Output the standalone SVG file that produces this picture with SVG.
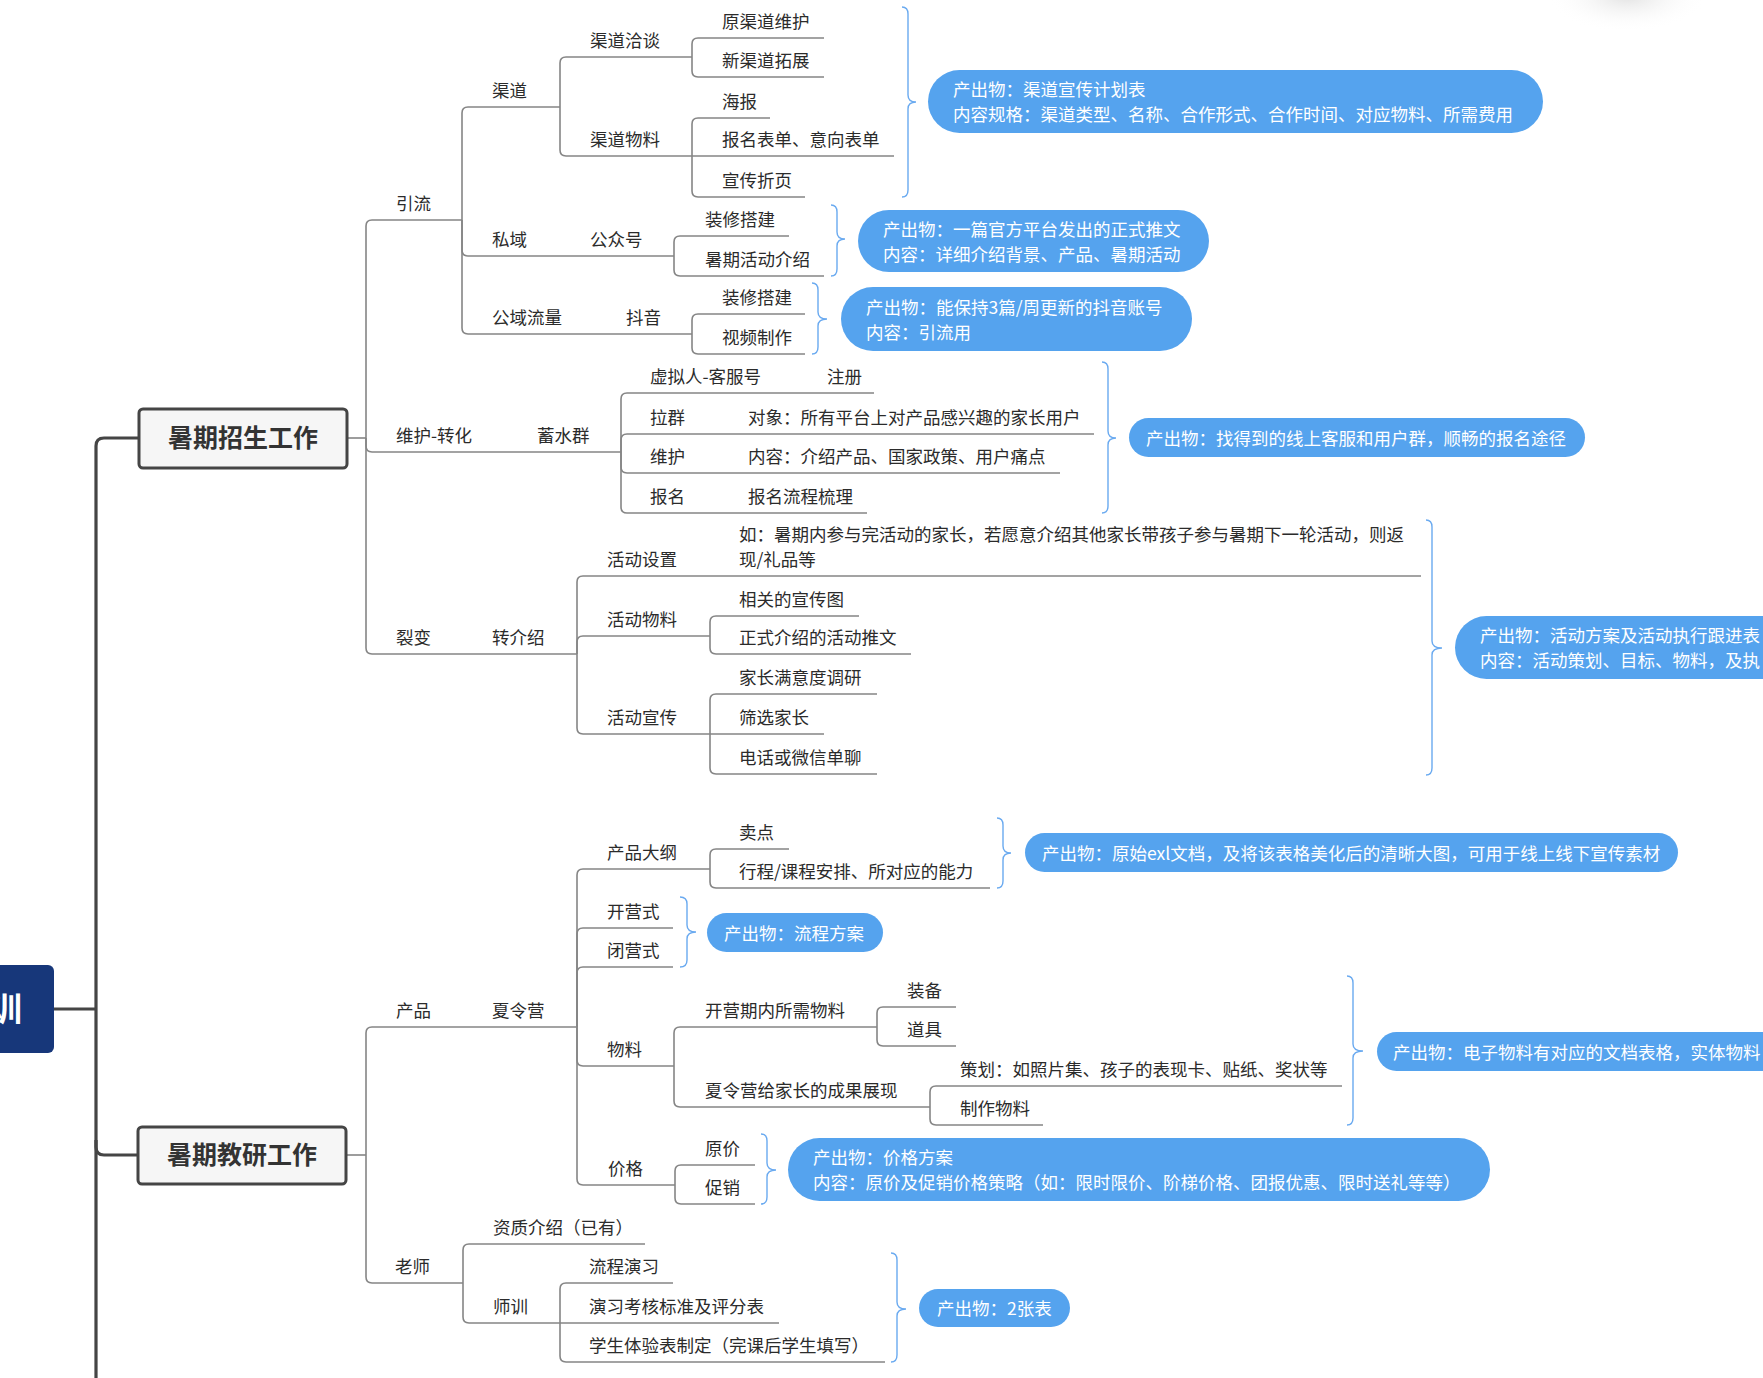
<svg xmlns="http://www.w3.org/2000/svg" width="1763" height="1378" viewBox="0 0 1763 1378">
<style>
text{font-family:"Noto Sans CJK SC","Noto Sans",sans-serif;}
.t{font-size:17.5px;fill:#2b2b2b;}
.bt{font-size:17.5px;fill:#ffffff;}
.ln{fill:none;stroke:#858585;stroke-width:1.6;}
.tk{fill:none;stroke:#454545;stroke-width:3.2;}
.br{fill:none;stroke:#6aaaf0;stroke-width:1.4;}
.bub{fill:#55a3ee;}
.box{fill:#f6f6f6;stroke:#454545;stroke-width:3;}
.bx{font-size:25px;font-weight:bold;fill:#333333;}
</style>
<defs>
<radialGradient id="sh" cx="0.5" cy="0.5" r="0.5">
<stop offset="0" stop-color="#e2e2e2"/>
<stop offset="1" stop-color="#ffffff" stop-opacity="0"/>
</radialGradient>
</defs>
<rect width="1763" height="1378" fill="#ffffff"/>
<ellipse cx="1627" cy="-4" rx="80" ry="36" fill="url(#sh)"/>

<g id="connectors">
<path class="tk" d="M96 1378 V446 Q96 438 104 438 H139"/>
<path class="tk" d="M96 1140 V1147 Q96 1155 104 1155 H138"/>
<path class="tk" d="M54 1009 H96"/>
<path class="ln" d="M347 438 H366"/>
<path class="ln" d="M346 1155 H366"/>
<!-- spine A招生 -->
<path class="ln" d="M366 438 V226 Q366 220 372 220 H462"/>
<path class="ln" d="M366 438 V446 Q366 452 372 452 H621"/>
<path class="ln" d="M366 438 V648 Q366 654 372 654 H577"/>
<!-- 引流 -->
<path class="ln" d="M462 220 V113 Q462 107 468 107 H560"/>
<path class="ln" d="M462 220 V250 Q462 256 468 256 H674"/>
<path class="ln" d="M462 220 V328 Q462 334 468 334 H692"/>
<!-- 渠道 -->
<path class="ln" d="M560 107 V63 Q560 57 566 57 H692"/>
<path class="ln" d="M560 107 V150 Q560 156 566 156 H692"/>
<path class="ln" d="M692 57 V44 Q692 38 698 38 H824"/>
<path class="ln" d="M692 57 V71 Q692 77 698 77 H824"/>
<path class="ln" d="M692 156 V124 Q692 118 698 118 H770"/>
<path class="ln" d="M692 156 H894"/>
<path class="ln" d="M692 156 V191 Q692 197 698 197 H805"/>
<!-- 私域 -->
<path class="ln" d="M674 256 V242 Q674 236 680 236 H789"/>
<path class="ln" d="M674 256 V270 Q674 276 680 276 H824"/>
<!-- 公域 -->
<path class="ln" d="M692 334 V320 Q692 314 698 314 H805"/>
<path class="ln" d="M692 334 V348 Q692 354 698 354 H805"/>
<!-- 蓄水群 -->
<path class="ln" d="M621 452 V399 Q621 393 627 393 H874"/>
<path class="ln" d="M621 452 V440 Q621 434 627 434 H1094"/>
<path class="ln" d="M621 452 V467 Q621 473 627 473 H1060"/>
<path class="ln" d="M621 452 V507 Q621 513 627 513 H867"/>
<!-- 转介绍 -->
<path class="ln" d="M577 654 V582 Q577 576 583 576 H1421"/>
<path class="ln" d="M577 654 V642 Q577 636 583 636 H710"/>
<path class="ln" d="M577 654 V728 Q577 734 583 734 H710"/>
<path class="ln" d="M710 636 V622 Q710 616 716 616 H859"/>
<path class="ln" d="M710 636 V648 Q710 654 716 654 H911"/>
<path class="ln" d="M710 734 V700 Q710 694 716 694 H877"/>
<path class="ln" d="M710 734 H824"/>
<path class="ln" d="M710 734 V768 Q710 774 716 774 H877"/>
<!-- spine 教研 -->
<path class="ln" d="M366 1155 V1033 Q366 1027 372 1027 H577"/>
<path class="ln" d="M366 1155 V1277 Q366 1283 372 1283 H463"/>
<!-- 夏令营 -->
<path class="ln" d="M577 1027 V875 Q577 869 583 869 H710"/>
<path class="ln" d="M577 1027 V934 Q577 928 583 928 H673"/>
<path class="ln" d="M577 1027 V973 Q577 967 583 967 H673"/>
<path class="ln" d="M577 1027 V1060 Q577 1066 583 1066 H674"/>
<path class="ln" d="M577 1027 V1179 Q577 1185 583 1185 H675"/>
<path class="ln" d="M710 869 V855 Q710 849 716 849 H789"/>
<path class="ln" d="M710 869 V882 Q710 888 716 888 H990"/>
<path class="ln" d="M674 1066 V1033 Q674 1027 680 1027 H877"/>
<path class="ln" d="M674 1066 V1101 Q674 1107 680 1107 H930"/>
<path class="ln" d="M877 1027 V1013 Q877 1007 883 1007 H956"/>
<path class="ln" d="M877 1027 V1040 Q877 1046 883 1046 H956"/>
<path class="ln" d="M930 1107 V1092 Q930 1086 936 1086 H1342"/>
<path class="ln" d="M930 1107 V1119 Q930 1125 936 1125 H1043"/>
<path class="ln" d="M675 1185 V1171 Q675 1165 681 1165 H755"/>
<path class="ln" d="M675 1185 V1198 Q675 1204 681 1204 H755"/>
<!-- 老师 -->
<path class="ln" d="M463 1283 V1250 Q463 1244 469 1244 H645"/>
<path class="ln" d="M463 1283 V1317 Q463 1323 469 1323 H560"/>
<path class="ln" d="M560 1323 V1289 Q560 1283 566 1283 H673"/>
<path class="ln" d="M560 1323 H779"/>
<path class="ln" d="M560 1323 V1356 Q560 1362 566 1362 H885"/>
</g>

<g id="brackets">
<path class="br" d="M902 7 Q908 7 908 14 V95 Q908 102 916 102 Q908 102 908 109 V190 Q908 197 902 197"/>
<path class="br" d="M831 205 Q837 205 837 212 V232 Q837 239 845 239 Q837 239 837 246 V269 Q837 276 831 276"/>
<path class="br" d="M812 283 Q818 283 818 290 V312 Q818 319 827 319 Q818 319 818 326 V347 Q818 354 812 354"/>
<path class="br" d="M1102 362 Q1108 362 1108 369 V431 Q1108 438 1116 438 Q1108 438 1108 445 V506 Q1108 513 1102 513"/>
<path class="br" d="M1426 520 Q1432 520 1432 527 V641 Q1432 648 1442 648 Q1432 648 1432 655 V768 Q1432 775 1426 775"/>
<path class="br" d="M997 818 Q1003 818 1003 825 V846 Q1003 853 1011 853 Q1003 853 1003 860 V881 Q1003 888 997 888"/>
<path class="br" d="M680 897 Q687 897 687 904 V925 Q687 932 696 932 Q687 932 687 939 V960 Q687 967 680 967"/>
<path class="br" d="M1347 976 Q1353 976 1353 983 V1044 Q1353 1051 1363 1051 Q1353 1051 1353 1058 V1118 Q1353 1125 1347 1125"/>
<path class="br" d="M761 1134 Q767 1134 767 1141 V1163 Q767 1170 776 1170 Q767 1170 767 1177 V1197 Q767 1204 761 1204"/>
<path class="br" d="M891 1253 Q897 1253 897 1260 V1302 Q897 1309 906 1309 Q897 1309 897 1316 V1355 Q897 1362 891 1362"/>
</g>

<g id="root"><rect x="-12" y="965" width="66" height="88" rx="6" fill="#17377a"/><text x="-11" y="1021" style="font-size:33px;font-weight:bold;fill:#ffffff">训</text></g>
<g id="zhaosheng"><rect class="box" x="139" y="409" width="208" height="59" rx="4"/><text class="bx" x="243" y="447" text-anchor="middle">暑期招生工作</text></g>
<g id="jiaoyan"><rect class="box" x="138" y="1127" width="208" height="57" rx="4"/><text class="bx" x="242" y="1164" text-anchor="middle">暑期教研工作</text></g>

<g id="n-yinliu"><text class="t" x="396" y="210">引流</text></g>
<g id="n-qudao"><text class="t" x="492" y="97">渠道</text></g>
<g id="n-qdqt"><text class="t" x="590" y="47">渠道洽谈</text></g>
<g id="n-yqdwh"><text class="t" x="722" y="28">原渠道维护</text></g>
<g id="n-xqdtz"><text class="t" x="722" y="67">新渠道拓展</text></g>
<g id="n-qdwl"><text class="t" x="590" y="146">渠道物料</text></g>
<g id="n-haibao"><text class="t" x="722" y="108">海报</text></g>
<g id="n-bmbd"><text class="t" x="722" y="146">报名表单、意向表单</text></g>
<g id="n-xczy"><text class="t" x="722" y="187">宣传折页</text></g>
<g id="n-siyu"><text class="t" x="492" y="246">私域</text></g>
<g id="n-gzh"><text class="t" x="590" y="246">公众号</text></g>
<g id="n-zxdj1"><text class="t" x="705" y="226">装修搭建</text></g>
<g id="n-sqhd"><text class="t" x="705" y="266">暑期活动介绍</text></g>
<g id="n-gyll"><text class="t" x="492" y="324">公域流量</text></g>
<g id="n-douyin"><text class="t" x="626" y="324">抖音</text></g>
<g id="n-zxdj2"><text class="t" x="722" y="304">装修搭建</text></g>
<g id="n-spzz"><text class="t" x="722" y="344">视频制作</text></g>
<g id="n-whzh"><text class="t" x="396" y="442">维护-转化</text></g>
<g id="n-xsq"><text class="t" x="537" y="442">蓄水群</text></g>
<g id="n-xnr"><text class="t" x="650" y="383">虚拟人-客服号</text><text class="t" x="827" y="383">注册</text></g>
<g id="n-laqun"><text class="t" x="650" y="424">拉群</text><text class="t" x="748" y="424">对象：所有平台上对产品感兴趣的家长用户</text></g>
<g id="n-weihu"><text class="t" x="650" y="463">维护</text><text class="t" x="748" y="463">内容：介绍产品、国家政策、用户痛点</text></g>
<g id="n-baoming"><text class="t" x="650" y="503">报名</text><text class="t" x="748" y="503">报名流程梳理</text></g>
<g id="n-liebian"><text class="t" x="396" y="644">裂变</text></g>
<g id="n-zjs"><text class="t" x="492" y="644">转介绍</text></g>
<g id="n-hdsz"><text class="t" x="607" y="566">活动设置</text><text class="t" x="739" y="541">如：暑期内参与完活动的家长，若愿意介绍其他家长带孩子参与暑期下一轮活动，则返</text><text class="t" x="739" y="566">现/礼品等</text></g>
<g id="n-hdwl"><text class="t" x="607" y="626">活动物料</text></g>
<g id="n-xgxct"><text class="t" x="739" y="606">相关的宣传图</text></g>
<g id="n-zsjs"><text class="t" x="739" y="644">正式介绍的活动推文</text></g>
<g id="n-hdxc"><text class="t" x="607" y="724">活动宣传</text></g>
<g id="n-jzmyd"><text class="t" x="739" y="684">家长满意度调研</text></g>
<g id="n-sxjz"><text class="t" x="739" y="724">筛选家长</text></g>
<g id="n-dhwx"><text class="t" x="739" y="764">电话或微信单聊</text></g>
<g id="n-chanpin"><text class="t" x="396" y="1017">产品</text></g>
<g id="n-xly"><text class="t" x="492" y="1017">夏令营</text></g>
<g id="n-cpdg"><text class="t" x="607" y="859">产品大纲</text></g>
<g id="n-maidian"><text class="t" x="739" y="839">卖点</text></g>
<g id="n-xc"><text class="t" x="739" y="878">行程/课程安排、所对应的能力</text></g>
<g id="n-kys"><text class="t" x="607" y="918">开营式</text></g>
<g id="n-bys"><text class="t" x="607" y="957">闭营式</text></g>
<g id="n-wuliao"><text class="t" x="607" y="1056">物料</text></g>
<g id="n-kyq"><text class="t" x="705" y="1017">开营期内所需物料</text></g>
<g id="n-zb"><text class="t" x="907" y="997">装备</text></g>
<g id="n-dj"><text class="t" x="907" y="1036">道具</text></g>
<g id="n-cgzx"><text class="t" x="705" y="1097">夏令营给家长的成果展现</text></g>
<g id="n-ch"><text class="t" x="960" y="1076">策划：如照片集、孩子的表现卡、贴纸、奖状等</text></g>
<g id="n-zzwl"><text class="t" x="960" y="1115">制作物料</text></g>
<g id="n-jiage"><text class="t" x="608" y="1175">价格</text></g>
<g id="n-yj"><text class="t" x="705" y="1155">原价</text></g>
<g id="n-cx"><text class="t" x="705" y="1194">促销</text></g>
<g id="n-laoshi"><text class="t" x="395" y="1273">老师</text></g>
<g id="n-zzjs"><text class="t" x="493" y="1234">资质介绍（已有）</text></g>
<g id="n-shixun"><text class="t" x="493" y="1313">师训</text></g>
<g id="n-lcyx"><text class="t" x="589" y="1273">流程演习</text></g>
<g id="n-yxkh"><text class="t" x="589" y="1313">演习考核标准及评分表</text></g>
<g id="n-xsty"><text class="t" x="589" y="1352">学生体验表制定（完课后学生填写）</text></g>

<g id="o1"><rect class="bub" x="928" y="70" width="615" height="63" rx="31.5"/><text class="bt" x="953" y="96">产出物：渠道宣传计划表</text><text class="bt" x="953" y="121">内容规格：渠道类型、名称、合作形式、合作时间、对应物料、所需费用</text></g>
<g id="o2"><rect class="bub" x="858" y="210" width="351" height="62" rx="31"/><text class="bt" x="883" y="235.5">产出物：一篇官方平台发出的正式推文</text><text class="bt" x="883" y="260.5">内容：详细介绍背景、产品、暑期活动</text></g>
<g id="o3"><rect class="bub" x="841" y="287" width="351" height="64" rx="32"/><text class="bt" x="866" y="313.5">产出物：能保持3篇/周更新的抖音账号</text><text class="bt" x="866" y="338.5">内容：引流用</text></g>
<g id="o4"><rect class="bub" x="1129" y="418" width="456" height="39" rx="19.5"/><text class="bt" x="1146" y="444.5">产出物：找得到的线上客服和用户群，顺畅的报名途径</text></g>
<g id="o5"><rect class="bub" x="1455" y="616" width="420" height="63" rx="31.5"/><text class="bt" x="1480" y="642">产出物：活动方案及活动执行跟进表</text><text class="bt" x="1480" y="667">内容：活动策划、目标、物料，及执</text></g>
<g id="o6"><rect class="bub" x="1025" y="833" width="653" height="39" rx="19.5"/><text class="bt" x="1042" y="859.5">产出物：原始exl文档，及将该表格美化后的清晰大图，可用于线上线下宣传素材</text></g>
<g id="o7"><rect class="bub" x="707" y="913" width="176" height="39" rx="19.5"/><text class="bt" x="724" y="939.5">产出物：流程方案</text></g>
<g id="o8"><rect class="bub" x="1377" y="1032" width="500" height="39" rx="19.5"/><text class="bt" x="1393" y="1058.5">产出物：电子物料有对应的文档表格，实体物料</text></g>
<g id="o9"><rect class="bub" x="788" y="1138" width="702" height="63" rx="31.5"/><text class="bt" x="813" y="1164">产出物：价格方案</text><text class="bt" x="813" y="1189">内容：原价及促销价格策略（如：限时限价、阶梯价格、团报优惠、限时送礼等等）</text></g>
<g id="o10"><rect class="bub" x="919" y="1289" width="151" height="38" rx="19"/><text class="bt" x="937" y="1314.5">产出物：2张表</text></g>
</svg>
